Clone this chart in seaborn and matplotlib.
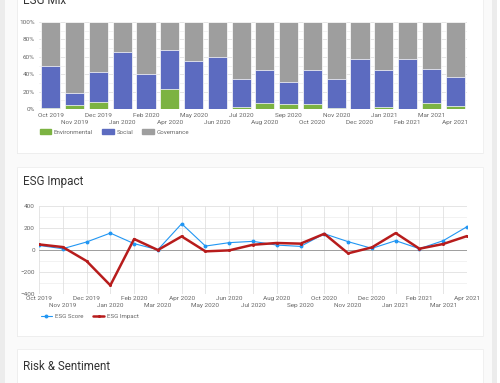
import matplotlib.pyplot as plt
import numpy as np
import pandas as pd
import seaborn as sns
from matplotlib.patches import Rectangle, Patch
from matplotlib.lines import Line2D

# ESG mix (percent), Mar 2020 has no data
mix_months = ["Oct 2019", "Nov 2019", "Dec 2019", "Jan 2020", "Feb 2020", "Apr 2020",
              "May 2020", "Jun 2020", "Jul 2020", "Aug 2020", "Sep 2020", "Oct 2020",
              "Nov 2020", "Dec 2020", "Jan 2021", "Feb 2021", "Mar 2021", "Apr 2021"]
environmental = [1.5, 4.5, 8, 0, 0, 23, 0, 0, 2.3, 7, 5.7, 6, 1.5, 0, 2.3, 0, 6.5, 3.4]
social = [47.5, 14.2, 34, 65.3, 40.8, 45.3, 55.7, 60, 32.7, 37.3, 24.8, 38.3, 32.5, 58, 42, 57, 39.3, 32.9]
governance = [100 - e - s for e, s in zip(environmental, social)]

# ESG impact
imp_months = ["Oct 2019", "Nov 2019", "Dec 2019", "Jan 2020", "Feb 2020", "Mar 2020",
              "Apr 2020", "May 2020", "Jun 2020", "Jul 2020", "Aug 2020", "Sep 2020",
              "Oct 2020", "Nov 2020", "Dec 2020", "Jan 2021", "Feb 2021", "Mar 2021", "Apr 2021"]
esg_score = [39, 9, 70, 151, 55, 0, 236, 33, 64, 76, 42, 30, 145, 73, 12, 82, 9, 82, 209]
esg_impact = [48, 24, -103, -324, 97, -3, 121, -15, -6, 45, 61, 55, 145, -33, 21, 151, 9, 52, 124]

W, H = 500, 383
GREEN, BLUE, GRAY = "#7cb342", "#5c6bc0", "#9e9e9e"
TXT = "#666666"
FS = 4.6

sns.set_theme(style="white")
plt.rcParams["font.family"] = ["Roboto", "DejaVu Sans"]

fig = plt.figure(figsize=(W / 100, H / 100), dpi=100, facecolor="#fafafa")


def rect(x0, y0, x1, y1, **kw):
    fig.add_artist(Rectangle((x0 / W, 1 - y1 / H), (x1 - x0) / W, (y1 - y0) / H,
                             transform=fig.transFigure, zorder=-5, **kw))


def axes_px(x0, y0, x1, y1):
    return fig.add_axes([x0 / W, 1 - y1 / H, (x1 - x0) / W, (y1 - y0) / H])


def two_row_ticks(ax, labels, pad1, pad2):
    pos = np.arange(len(labels))
    ax.set_xticks(pos[::2])
    ax.set_xticklabels(labels[::2])
    ax.set_xticks(pos[1::2], minor=True)
    ax.set_xticklabels(labels[1::2], minor=True)
    ax.tick_params(axis="x", which="major", pad=pad1)
    ax.tick_params(axis="x", which="minor", pad=pad2)
    ax.tick_params(which="both", length=0, labelsize=FS, labelcolor=TXT)


# page strips and cards
rect(0, 0, 5, H, facecolor="#ececec", edgecolor="none")
rect(492, 0, 497, H, facecolor="#ececec", edgecolor="none")
rect(497, 0, W, H, facecolor="white", edgecolor="none")
for y0, y1 in [(-5, 153), (167, 336), (349, 400)]:
    rect(17, y0 + 1, 483, y1 + 1, facecolor="#dedede", edgecolor="none")
    rect(17, y0, 483, y1, facecolor="white", edgecolor="#eeeeee", linewidth=0.6)

fig.text(23 / W, 1 - 4 / H, "ESG Mix", fontsize=8.4, color="#333333", va="baseline")
fig.text(23 / W, 1 - 185.5 / H, "ESG Impact", fontsize=8.4, color="#333333", va="baseline")
fig.text(23 / W, 1 - 369.5 / H, "Risk & Sentiment", fontsize=8.4, color="#333333", va="baseline")

# ---- ESG Mix stacked bars
ax = axes_px(39, 22, 467, 109)
ax.set_facecolor("none")
for yv in np.arange(0, 101, 10):
    ax.axhline(yv, color="#e0e0e0" if yv % 20 == 0 else "#f0f0f0", lw=0.6, zorder=0)
tot = np.array(environmental) + np.array(social) + np.array(governance)
es = np.array(environmental) + np.array(social)
sns.barplot(x=mix_months, y=tot, color=GRAY, saturation=1, width=0.8,
            edgecolor="white", linewidth=0.5, ax=ax)
sns.barplot(x=mix_months, y=es, color=BLUE, saturation=1, width=0.8,
            edgecolor="white", linewidth=0.5, ax=ax)
sns.barplot(x=mix_months, y=environmental, color=GREEN, saturation=1, width=0.8,
            edgecolor="white", linewidth=0.5, ax=ax)
ax.set_ylim(0, 100)
ax.set_xlim(-0.5, len(mix_months) - 0.5)
ax.set_yticks(np.arange(0, 101, 20))
ax.set_yticklabels([f"{v}%" for v in range(0, 101, 20)])
ax.tick_params(axis="y", length=0, labelsize=FS, labelcolor=TXT, pad=3)
two_row_ticks(ax, mix_months, 3, 7.8)
ax.set_xlabel("")
ax.set_ylabel("")
sns.despine(ax=ax, left=True, bottom=True)
fig.legend(handles=[Patch(color=GREEN, label="Environmental"),
                    Patch(color=BLUE, label="Social"),
                    Patch(color=GRAY, label="Governance")],
           loc="center left", bbox_to_anchor=(34 / W, 1 - 132 / H), ncol=3, frameon=False,
           fontsize=4.4, labelcolor=TXT, handlelength=1.9, handleheight=0.8,
           handletextpad=0.45, columnspacing=1.5)

# ---- ESG Impact lines
ax2 = axes_px(39, 205.7, 467, 293.7)
ax2.set_facecolor("none")
x = np.arange(len(imp_months))
for yv in range(-400, 401, 100):
    ax2.axhline(yv, color="#e0e0e0" if yv % 200 == 0 else "#f0f0f0", lw=0.6, zorder=0)
for xv in x:
    ax2.axvline(xv, color="#e0e0e0", lw=0.6, zorder=0)
ax2.axhline(0, color="#9e9e9e", lw=0.7, zorder=1)
df = pd.DataFrame({"x": x, "score": esg_score, "impact": esg_impact})
sns.lineplot(data=df, x="x", y="score", color="#2196f3", lw=0.8, marker="o",
             markersize=2.8, markeredgewidth=0, ax=ax2, zorder=3)
sns.lineplot(data=df, x="x", y="impact", color="#b71c1c", lw=1.8, marker="o",
             markersize=2.2, markeredgewidth=0, ax=ax2, zorder=4)
ax2.set_xlim(0, len(imp_months) - 1)
ax2.set_ylim(-400, 400)
ax2.set_yticks([-400, -200, 0, 200, 400])
ax2.tick_params(axis="y", length=0, labelsize=FS, labelcolor=TXT, pad=3)
two_row_ticks(ax2, imp_months, 2, 7)
ax2.set_xlabel("")
ax2.set_ylabel("")
sns.despine(ax=ax2, left=True, bottom=True, right=True, top=True)
fig.legend(handles=[Line2D([], [], color="#2196f3", lw=0.8, marker="o", markersize=2.8,
                           markeredgewidth=0, label="ESG Score"),
                    Line2D([], [], color="#b71c1c", lw=1.8, marker="o", markersize=2.2,
                           markeredgewidth=0, label="ESG Impact")],
           loc="center left", bbox_to_anchor=(35 / W, 1 - 316.5 / H), ncol=2, frameon=False,
           fontsize=4.4, labelcolor=TXT, handlelength=1.9, handletextpad=0.4,
           columnspacing=1.6)

fig.savefig("out.png", dpi=100, facecolor=fig.get_facecolor())
